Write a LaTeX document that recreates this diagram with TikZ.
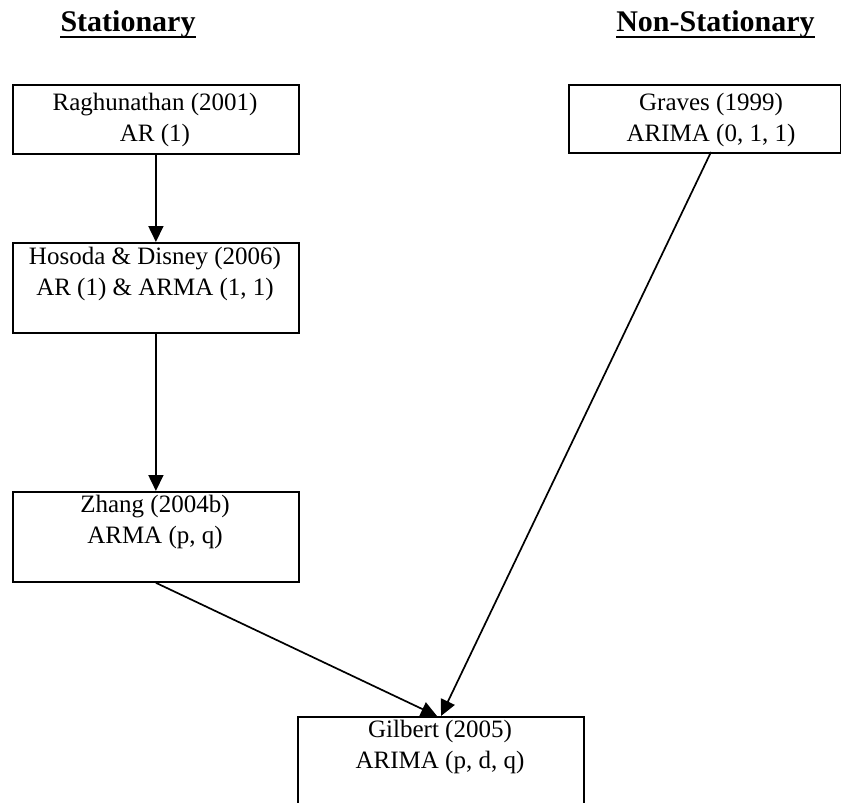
\documentclass[tikz,border=0pt]{standalone}
\usepackage{fontspec}
\setmainfont{Liberation Serif}
\usetikzlibrary{arrows.meta,calc}
\begin{document}
\begin{tikzpicture}[x=1pt,y=-1pt,
  modelbox/.style={draw,line width=1.8pt,inner sep=0pt,anchor=north west,minimum width=286pt},
  modeltext/.style={inner sep=0pt,align=center,anchor=base,font=\fontsize{25}{30.5}\selectfont},
  heading/.style={inner sep=0pt,anchor=base,font=\fontsize{30}{36}\selectfont\bfseries},
  rule/.style={line width=2pt},
  link/.style={line width=1.7pt,-{Triangle[length=16pt,width=15pt]}}]
\path[use as bounding box, clip] (0,0) rectangle (841,803);

% column headings
\node[heading] (stat) at (128,31) {Stationary};
\node[heading] (nonstat) at (715.5,31) {Non-Stationary};
\draw[rule] ([yshift=-6pt]stat.base west) -- ([yshift=-6pt]stat.base east);
\draw[rule] ([yshift=-6pt]nonstat.base west) -- ([yshift=-6pt]nonstat.base east);

% model boxes
\node[modelbox,minimum height=69pt] (ragh) at (12,84) {};
\node[modelbox,minimum height=90pt] (hos) at (12,242) {};
\node[modelbox,minimum height=90pt] (zhang) at (12,491) {};
\node[modelbox,minimum height=68pt,minimum width=272pt] (graves) at (568,84) {};
\node[modelbox,minimum height=90pt] (gil) at (297,716) {};

% box texts, placed by the baseline of their last line
\node[modeltext] (raghtxt) at (155,141) {Raghunathan (2001)\\AR (1)};
\node[modeltext] (hostxt) at (155,295) {Hosoda \& Disney (2006)\\AR (1) \& ARMA (1, 1)};
\node[modeltext] (zhangtxt) at (155,543) {Zhang (2004b)\\ARMA (p, q)};
\node[modeltext] (gravestxt) at (711,141) {Graves (1999)\\ARIMA (0, 1, 1)};
\node[modeltext] (giltxt) at (440,768) {Gilbert (2005)\\ARIMA (p, d, q)};

% connectors
\coordinate (gravesout) at (711,152);
\coordinate (gilinL) at (437,716);
\coordinate (gilinR) at (441,716);
\draw[link] (ragh.south) -- (hos.north);
\draw[link] (hos.south) -- (zhang.north);
\draw[link] (zhang.south) -- (gilinL);
\draw[link] (gravesout) -- (gilinR);
\end{tikzpicture}
\end{document}
